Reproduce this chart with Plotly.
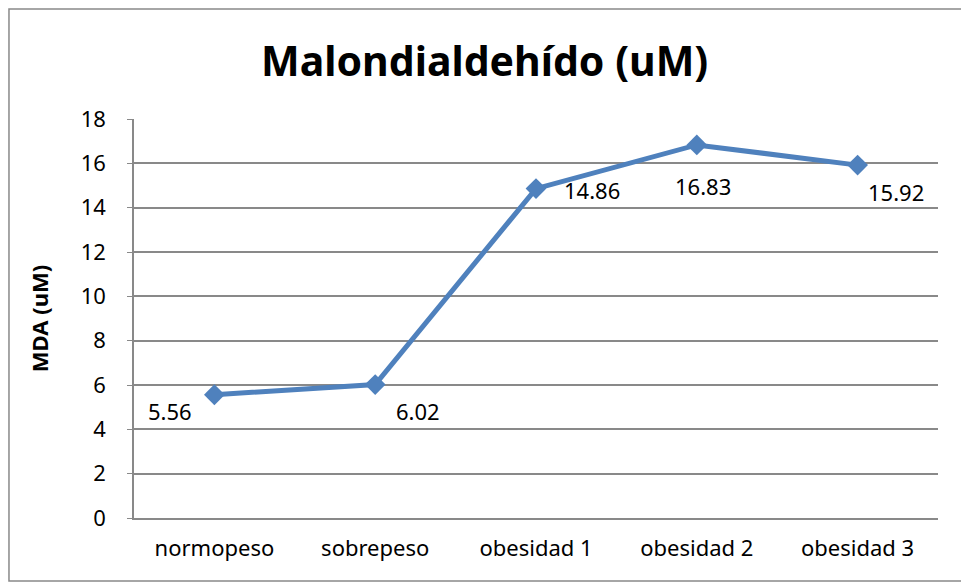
import plotly.graph_objects as go

categories = ["normopeso", "sobrepeso", "obesidad 1", "obesidad 2", "obesidad 3"]
mda = [5.56, 6.02, 14.86, 16.83, 15.92]
labels = ["5.56", "6.02", "14.86", "16.83", "15.92"]
y_ticks = [0, 2, 4, 6, 8, 10, 12, 14, 16, 18]

# pixel offsets of the data labels, as placed in the original
label_shift = [(-44, -16), (43, -26), (56, -1), (6, -41), (38, -27)]

font = "Noto Sans, Open Sans, sans-serif"
blue = "#4F81BD"
grey = "#898989"

fig = go.Figure()
fig.add_trace(go.Scatter(
    x=categories,
    y=mda,
    mode="lines+markers",
    line=dict(color=blue, width=5),
    marker=dict(symbol="diamond", size=16, color=blue),
    hoverinfo="x+y",
))

for cat, val, txt, (dx, dy) in zip(categories, mda, labels, label_shift):
    fig.add_annotation(
        x=cat, y=val, text=txt, showarrow=False,
        xshift=dx, yshift=dy,
        font=dict(family=font, size=22, color="black"),
    )

# outer chart border
fig.add_shape(
    type="rect", xref="paper", yref="paper",
    x0=-0.1555, x1=1.034, y0=-0.158, y1=1.2757,
    line=dict(color=grey, width=1.5), layer="below",
)

# page body adds an 8px margin, so the figure is a bit smaller than the window
fig.update_layout(
    width=961,
    height=576,
    margin=dict(l=126, r=31, t=111, b=66),
    paper_bgcolor="white",
    plot_bgcolor="white",
    showlegend=False,
    title=dict(
        text="<b>Malondialdehído (uM)</b>",
        x=0.496, xanchor="center", y=0.906, yanchor="middle",
        font=dict(family=font, size=41, color="black"),
    ),
    font=dict(family=font, size=22, color="black"),
)

fig.update_xaxes(
    type="category",
    range=[-0.5, 4.5],
    showline=True, linecolor=grey, linewidth=1.5,
    showgrid=False,
    ticks="", ticklabelstandoff=10,
    tickfont=dict(family=font, size=22, color="black"),
)

fig.update_yaxes(
    range=[0, 18],
    tickvals=y_ticks,
    showline=True, linecolor=grey, linewidth=1.5,
    showgrid=True, gridcolor=grey, gridwidth=1.5,
    ticks="outside", ticklen=5, tickcolor=grey,
    ticklabelstandoff=17,
    zeroline=False,
    tickfont=dict(family=font, size=22, color="black"),
    title=dict(text="<b>MDA (uM)</b>", standoff=26,
               font=dict(family=font, size=22, color="black")),
)

fig.write_html("out.html")
